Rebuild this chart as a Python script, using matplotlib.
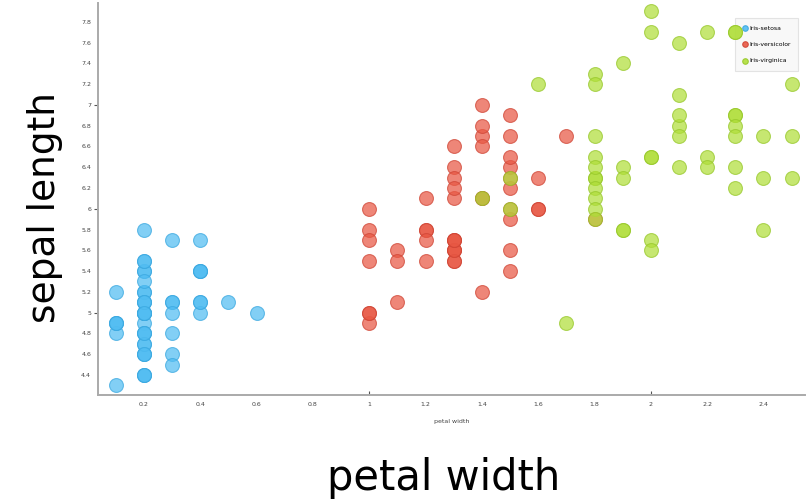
import matplotlib
matplotlib.use("Agg")
from matplotlib import pyplot as plt
from matplotlib.ticker import FixedLocator

# iris: petal width (x) vs sepal length (y)
setosa_pw = [0.2, 0.2, 0.2, 0.2, 0.2, 0.4, 0.3, 0.2, 0.2, 0.1,
             0.2, 0.2, 0.1, 0.1, 0.2, 0.4, 0.4, 0.3, 0.3, 0.3,
             0.2, 0.4, 0.2, 0.5, 0.2, 0.2, 0.4, 0.2, 0.2, 0.2,
             0.2, 0.4, 0.1, 0.2, 0.1, 0.2, 0.2, 0.1, 0.2, 0.2,
             0.3, 0.3, 0.2, 0.6, 0.4, 0.3, 0.2, 0.2, 0.2, 0.2]
setosa_sl = [5.1, 4.9, 4.7, 4.6, 5.0, 5.4, 4.6, 5.0, 4.4, 4.9,
             5.4, 4.8, 4.8, 4.3, 5.8, 5.7, 5.4, 5.1, 5.7, 5.1,
             5.4, 5.1, 4.6, 5.1, 4.8, 5.0, 5.0, 5.2, 5.2, 4.7,
             4.8, 5.4, 5.2, 5.5, 4.9, 5.0, 5.5, 4.9, 4.4, 5.1,
             5.0, 4.5, 4.4, 5.0, 5.1, 4.8, 5.1, 4.6, 5.3, 5.0]

versicolor_pw = [1.4, 1.5, 1.5, 1.3, 1.5, 1.3, 1.6, 1.0, 1.3, 1.4,
                 1.0, 1.5, 1.0, 1.4, 1.3, 1.4, 1.5, 1.0, 1.5, 1.1,
                 1.8, 1.3, 1.5, 1.2, 1.3, 1.4, 1.4, 1.7, 1.5, 1.0,
                 1.1, 1.0, 1.2, 1.6, 1.5, 1.6, 1.5, 1.3, 1.3, 1.3,
                 1.2, 1.4, 1.2, 1.0, 1.3, 1.2, 1.3, 1.3, 1.1, 1.3]
versicolor_sl = [7.0, 6.4, 6.9, 5.5, 6.5, 5.7, 6.3, 4.9, 6.6, 5.2,
                 5.0, 5.9, 6.0, 6.1, 5.6, 6.7, 5.6, 5.8, 6.2, 5.6,
                 5.9, 6.1, 6.3, 6.1, 6.4, 6.6, 6.8, 6.7, 6.0, 5.7,
                 5.5, 5.5, 5.8, 6.0, 5.4, 6.0, 6.7, 6.3, 5.6, 5.5,
                 5.5, 6.1, 5.8, 5.0, 5.6, 5.7, 5.7, 6.2, 5.1, 5.7]

virginica_pw = [2.5, 1.9, 2.1, 1.8, 2.2, 2.1, 1.7, 1.8, 1.8, 2.5,
                2.0, 1.9, 2.1, 2.0, 2.4, 2.3, 1.8, 2.2, 2.3, 1.5,
                2.3, 2.0, 2.0, 1.8, 2.1, 1.8, 1.8, 1.8, 2.1, 1.6,
                1.9, 2.0, 2.2, 1.5, 1.4, 2.3, 2.4, 1.8, 1.8, 2.1,
                2.4, 2.3, 1.9, 2.3, 2.5, 2.3, 1.9, 2.0, 2.3, 1.8]
virginica_sl = [6.3, 5.8, 7.1, 6.3, 6.5, 7.6, 4.9, 7.3, 6.7, 7.2,
                6.5, 6.4, 6.8, 5.7, 5.8, 6.4, 6.5, 7.7, 7.7, 6.0,
                6.9, 5.6, 7.7, 6.3, 6.7, 7.2, 6.2, 6.1, 6.4, 7.2,
                7.4, 7.9, 6.4, 6.3, 6.1, 7.7, 6.3, 6.4, 6.0, 6.9,
                6.7, 6.9, 5.8, 6.8, 6.7, 6.7, 6.3, 6.5, 6.2, 5.9]

species = ["Iris-setosa", "Iris-versicolor", "Iris-virginica"]
x_ticks = [0.2, 0.4, 0.6, 0.8, 1.0, 1.2, 1.4, 1.6, 1.8, 2.0, 2.2, 2.4]
y_ticks = [4.4, 4.6, 4.8, 5.0, 5.2, 5.4, 5.6, 5.8, 6.0, 6.2, 6.4, 6.6,
           6.8, 7.0, 7.2, 7.4, 7.6, 7.8]

colors = ["#52bdf2", "#e85844", "#b0de3a"]
edges = ["#3aa8e0", "#d04535", "#97c82a"]

fig = plt.figure(figsize=(8.06, 5.04), dpi=100)
ax = fig.add_axes([0.1216, 0.2163, 0.877, 0.778])

data = [(setosa_pw, setosa_sl), (versicolor_pw, versicolor_sl),
        (virginica_pw, virginica_sl)]
for (xs, ys), name, c, e in zip(data, species, colors, edges):
    ax.scatter(xs, ys, s=100, color=c, alpha=0.72, edgecolors=e,
               linewidths=0.8, label=name, zorder=3)

ax.set_xlim(0.0367, 2.547)
ax.set_ylim(4.207, 7.983)

def fmt(v):
    return str(int(round(v))) if abs(v - round(v)) < 1e-9 else f"{v:.1f}"

ax.set_xticks(x_ticks)
ax.set_xticklabels([fmt(v) for v in x_ticks])
ax.set_yticks(y_ticks)
ax.set_yticklabels([fmt(v) for v in y_ticks])
ax.tick_params(axis="both", which="major", length=0, labelsize=4.5,
               labelcolor="#444444", pad=5)

# small marks only at whole numbers
ax.xaxis.remove_overlapping_locs = False
ax.yaxis.remove_overlapping_locs = False
ax.xaxis.set_minor_locator(FixedLocator([1, 2]))
ax.yaxis.set_minor_locator(FixedLocator([5, 6, 7]))
ax.tick_params(axis="x", which="minor", direction="in", length=3,
               color="#555555", width=0.8)
ax.tick_params(axis="y", which="minor", direction="out", length=3,
               color="#555555", width=0.8)

for side in ["top", "right"]:
    ax.spines[side].set_visible(False)
for side in ["left", "bottom"]:
    ax.spines[side].set_color("#aaaaaa")
    ax.spines[side].set_linewidth(1.4)

ax.set_xlabel("petal width", fontsize=4.5, color="#444444", labelpad=9)

leg = ax.legend(loc="upper right", bbox_to_anchor=(798 / 806, 1 - 18 / 504),
                bbox_transform=fig.transFigure, fontsize=4.4, markerscale=0.4,
                frameon=True, fancybox=False, handletextpad=0.25,
                borderpad=1.2, labelspacing=1.8, handlelength=0.9,
                borderaxespad=0)
leg.get_frame().set_edgecolor("#dddddd")
leg.get_frame().set_facecolor("#f7f7f7")
leg.get_frame().set_linewidth(0.8)
leg.set_zorder(2)
for h in leg.legend_handles:
    h.set_alpha(0.9)

fig.text(45 / 806, 1 - 208 / 504, "sepal length", rotation=90, fontsize=27,
         family="DejaVu Sans", ha="center", va="center")
fig.text(444 / 806, 1 - 478 / 504, "petal width", fontsize=30,
         family="DejaVu Sans", ha="center", va="center")

fig.savefig("out.png", dpi=100)
